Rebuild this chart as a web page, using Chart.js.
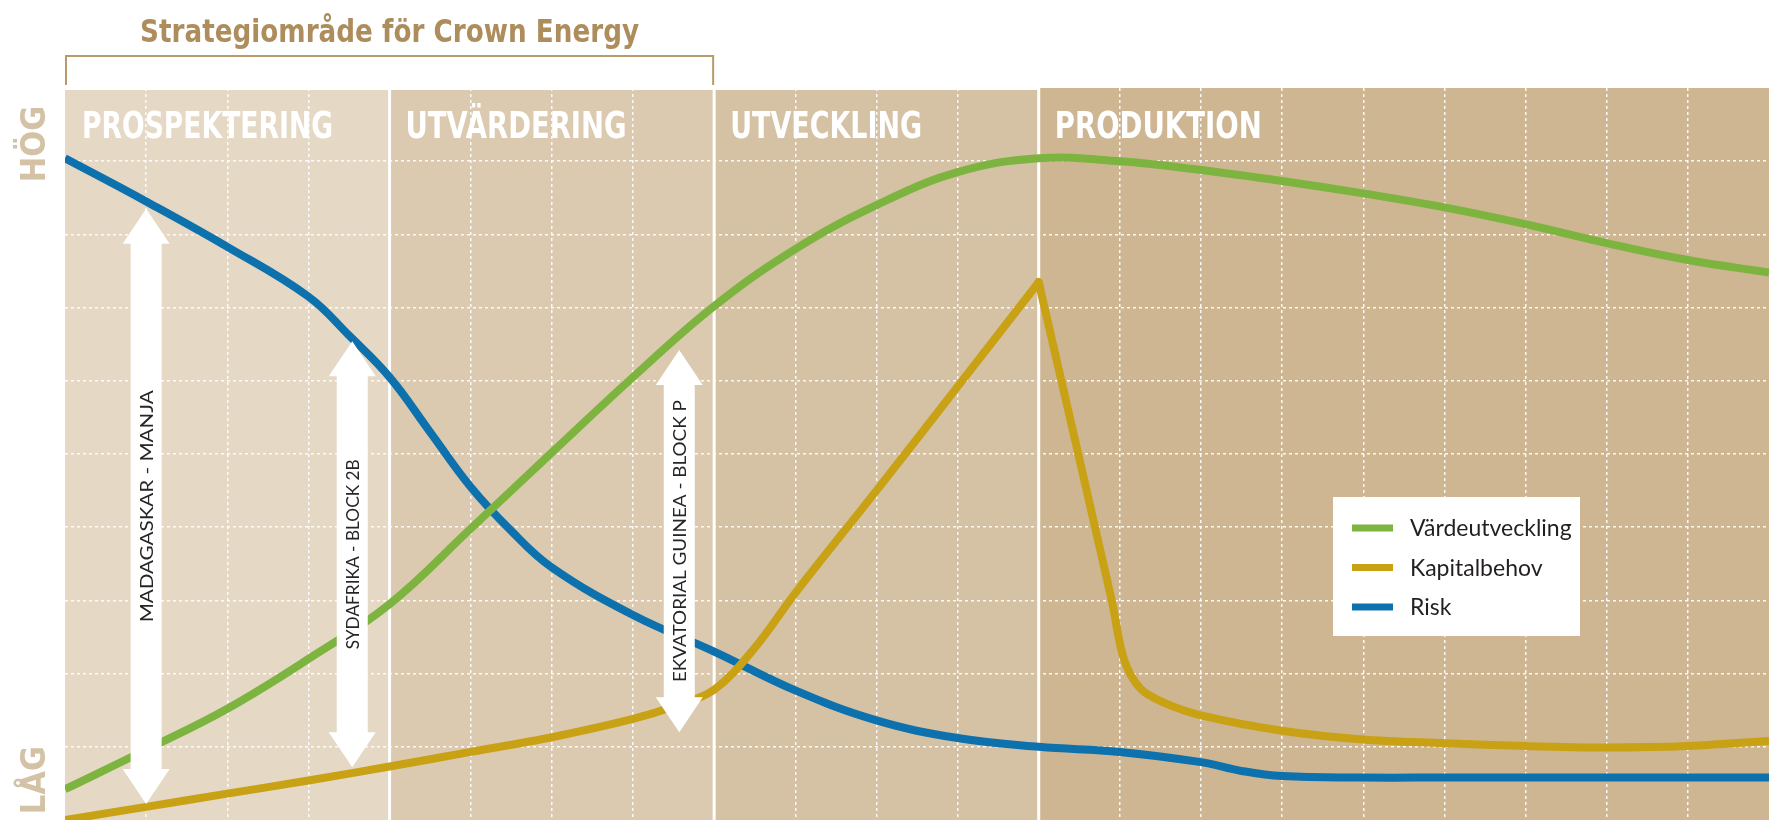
<!DOCTYPE html>
<html lang="sv">
<head>
<meta charset="utf-8">
<title>Strategiområde för Crown Energy</title>
<script src="https://cdn.jsdelivr.net/npm/chart.js@4.4.1/dist/chart.umd.min.js"></script>
<style>
  html, body { margin: 0; padding: 0; background: #fff; }
  #wrap { position: relative; width: 1769px; height: 820px; }
</style>
</head>
<body>
<div id="wrap"><canvas id="phaseChart"></canvas></div>
<script>
// phases along the x axis, in grid columns
const phaseLabels = ['PROSPEKTERING', 'UTVÄRDERING', 'UTVECKLING', 'PRODUKTION'];
const phaseEdges = [0, 4, 8, 12, 21];
const phaseColors = ['#e5d9c6', '#dccab0', '#d5c1a3', '#cfb693'];

// Värdeutveckling
const valueX = [0, 1, 2, 3, 4, 5, 6, 7, 8, 9, 10, 11, 12, 13, 14, 15, 16, 17, 18, 19, 20, 21];
const valueY = [0.42, 0.96, 1.52, 2.2, 2.95, 3.98, 5.02, 6.05, 7.02, 7.8, 8.4, 8.85, 9.04, 9.0, 8.88, 8.73, 8.56, 8.37, 8.14, 7.88, 7.65, 7.48];

// Kapitalbehov (sharp peak at start of production)
const capitalX = [0, 1, 2, 3, 4, 5, 6, 7, 7.5, 8, 8.5, 9, 10, 11, 11.98, 12, 12.03, 12.9, 13.05, 13.25, 13.55, 14, 15, 16, 17, 18, 19, 20, 21];
const capitalY = [0, 0.18, 0.36, 0.54, 0.73, 0.93, 1.13, 1.38, 1.55, 1.78, 2.35, 3.1, 4.5, 5.92, 7.32, 7.35, 7.2, 3.0, 2.2, 1.8, 1.6, 1.43, 1.22, 1.1, 1.05, 1.01, 0.99, 1.01, 1.08];

// Risk
const riskX = [0, 1, 2, 3, 3.5, 4, 4.5, 5, 5.5, 6, 7, 8, 9, 10, 11, 12, 13, 14, 14.5, 15, 16, 17, 18, 19, 20, 21];
const riskY = [9.04, 8.45, 7.83, 7.15, 6.62, 6.05, 5.3, 4.55, 3.95, 3.45, 2.8, 2.3, 1.77, 1.36, 1.12, 1.0, 0.93, 0.79, 0.67, 0.6, 0.58, 0.58, 0.58, 0.58, 0.58, 0.58];

// country arrows (x column, tip top / tip bottom on the y scale)
const arrowLabels = ['MADAGASKAR - MANJA', 'SYDAFRIKA - BLOCK 2B', 'EKVATORIAL GUINEA - BLOCK P'];
const arrowX = [1, 3.54, 7.57];
const arrowTop = [8.35, 6.54, 6.42];
const arrowBottom = [0.22, 0.72, 1.2];

const toPoints = (xs, ys) => xs.map((x, i) => ({ x: x, y: ys[i] }));

const CONDENSED = '"DejaVu Sans Condensed", "Liberation Sans Narrow", sans-serif';

// squeeze/stretch a text to a given width
function fitText(ctx, text, x, y, width) {
  const w = ctx.measureText(text).width;
  ctx.save();
  ctx.translate(x, y);
  ctx.scale(width / w, 1);
  ctx.fillText(text, 0, 0);
  ctx.restore();
}

const backdrop = {
  id: 'backdrop',
  beforeDraw(chart) {
    const { ctx, chartArea: a, scales: { x } } = chart;
    ctx.save();
    for (let i = 0; i < phaseLabels.length; i++) {
      const x0 = x.getPixelForValue(phaseEdges[i]);
      const x1 = x.getPixelForValue(phaseEdges[i + 1]);
      ctx.fillStyle = phaseColors[i];
      // first three phases start a little lower than production
      const top = i < 3 ? a.top + 2 : a.top;
      ctx.fillRect(x0, top, x1 - x0, a.bottom - top);
    }
    ctx.restore();
  },
  beforeDatasetsDraw(chart) {
    const { ctx, chartArea: a, scales: { x } } = chart;
    ctx.save();
    // solid white phase dividers
    ctx.strokeStyle = '#ffffff';
    ctx.lineWidth = 3;
    for (let i = 1; i < phaseLabels.length; i++) {
      const px = x.getPixelForValue(phaseEdges[i]);
      ctx.beginPath();
      ctx.moveTo(px, a.top);
      ctx.lineTo(px, a.bottom);
      ctx.stroke();
    }
    // phase names
    const widths = [251, 221, 192, 207];
    ctx.fillStyle = '#ffffff';
    ctx.font = 'bold 37px ' + CONDENSED;
    ctx.textAlign = 'left';
    ctx.textBaseline = 'alphabetic';
    for (let i = 0; i < phaseLabels.length; i++) {
      const px = x.getPixelForValue(phaseEdges[i]) + (i === 0 ? 17 : 16);
      fitText(ctx, phaseLabels[i], px, a.top + 50, widths[i]);
    }
    ctx.restore();
  },
  afterDatasetsDraw(chart) {
    const { ctx, scales: { x, y } } = chart;
    const textLen = [232, 190, 282];
    ctx.save();
    for (let i = 0; i < arrowLabels.length; i++) {
      const cx = x.getPixelForValue(arrowX[i]);
      const top = y.getPixelForValue(arrowTop[i]);
      const bot = y.getPixelForValue(arrowBottom[i]);
      const sw = 15.5, hw = 23.5, hl = 35;
      ctx.fillStyle = '#ffffff';
      ctx.beginPath();
      ctx.moveTo(cx, top);
      ctx.lineTo(cx + hw, top + hl);
      ctx.lineTo(cx + sw, top + hl);
      ctx.lineTo(cx + sw, bot - hl);
      ctx.lineTo(cx + hw, bot - hl);
      ctx.lineTo(cx, bot);
      ctx.lineTo(cx - hw, bot - hl);
      ctx.lineTo(cx - sw, bot - hl);
      ctx.lineTo(cx - sw, top + hl);
      ctx.lineTo(cx - hw, top + hl);
      ctx.closePath();
      ctx.fill();

      ctx.save();
      ctx.translate(cx, (top + bot) / 2);
      ctx.rotate(-Math.PI / 2);
      ctx.fillStyle = '#262626';
      ctx.font = '18px Lato, "Noto Sans", sans-serif';
      ctx.textAlign = 'center';
      ctx.textBaseline = 'alphabetic';
      fitText(ctx, arrowLabels[i], 0, 7, textLen[i]);
      ctx.restore();
    }
    ctx.restore();
  },
  afterDraw(chart) {
    const { ctx, scales: { x } } = chart;
    ctx.save();

    // bracket + title
    const bx0 = x.getPixelForValue(phaseEdges[0]);
    const bx1 = x.getPixelForValue(phaseEdges[2]);
    ctx.strokeStyle = '#b99b6b';
    ctx.lineWidth = 2;
    ctx.beginPath();
    ctx.moveTo(bx0 + 1, 85);
    ctx.lineTo(bx0 + 1, 56);
    ctx.lineTo(bx1 - 1, 56);
    ctx.lineTo(bx1 - 1, 85);
    ctx.stroke();

    ctx.fillStyle = '#ad8d5c';
    ctx.font = 'bold 32px ' + CONDENSED;
    ctx.textAlign = 'center';
    ctx.textBaseline = 'alphabetic';
    fitText(ctx, 'Strategiområde för Crown Energy', (bx0 + bx1) / 2, 42, 499);

    // HÖG / LÅG
    ctx.fillStyle = '#d3c2a5';
    ctx.font = 'bold 34px ' + CONDENSED;
    [['HÖG', 144], ['LÅG', 780]].forEach(([t, cy]) => {
      ctx.save();
      ctx.translate(45, cy);
      ctx.rotate(-Math.PI / 2);
      ctx.textAlign = 'center';
      ctx.fillText(t, 0, 0);
      ctx.restore();
    });

    // legend box
    ctx.fillStyle = '#ffffff';
    ctx.fillRect(1333, 497, 247, 139);
    ctx.font = '23px Lato, "Noto Sans", sans-serif';
    ctx.textAlign = 'left';
    ctx.textBaseline = 'middle';
    chart.data.datasets.forEach((ds, i) => {
      const ry = 528 + i * 39.5;
      ctx.fillStyle = ds.borderColor;
      ctx.fillRect(1352, ry - 3.5, 41, 7);
      ctx.fillStyle = '#231f20';
      ctx.fillText(ds.label, 1410, ry + 1);
    });
    ctx.restore();
  }
};

const gridColor = (hidden) => (c) =>
  hidden.includes(c.tick.value) ? 'rgba(0,0,0,0)' : 'rgba(255,255,255,0.9)';

new Chart(document.getElementById('phaseChart'), {
  type: 'line',
  data: {
    datasets: [
      {
        label: 'Värdeutveckling',
        data: toPoints(valueX, valueY),
        borderColor: '#7db43f',
        borderWidth: 8,
        tension: 0.4,
        pointRadius: 0
      },
      {
        label: 'Kapitalbehov',
        data: toPoints(capitalX, capitalY),
        borderColor: '#c9a115',
        borderWidth: 8,
        tension: 0.35,
        pointRadius: 0
      },
      {
        label: 'Risk',
        data: toPoints(riskX, riskY),
        borderColor: '#0c71ad',
        borderWidth: 8,
        tension: 0.4,
        pointRadius: 0
      }
    ]
  },
  options: {
    responsive: true,
    maintainAspectRatio: false,
    animation: false,
    events: [],
    layout: { padding: { left: 65, top: 88, right: 0, bottom: 0 } },
    plugins: {
      legend: { display: false },
      tooltip: { enabled: false }
    },
    scales: {
      x: {
        type: 'linear',
        min: 0,
        max: 21,
        ticks: { display: false, stepSize: 1, maxTicksLimit: 30 },
        grid: { color: gridColor([0, 4, 8, 12, 21]), lineWidth: 1.5, drawTicks: false },
        border: { display: false, dash: [3, 3] },
        afterFit(scale) { scale.height = 0; }
      },
      y: {
        min: 0,
        max: 10,
        ticks: { display: false, stepSize: 1, maxTicksLimit: 30 },
        grid: { color: gridColor([0, 10]), lineWidth: 1.5, drawTicks: false },
        border: { display: false, dash: [3, 3] },
        afterFit(scale) { scale.width = 0; }
      }
    }
  },
  plugins: [backdrop]
});
</script>
</body>
</html>
